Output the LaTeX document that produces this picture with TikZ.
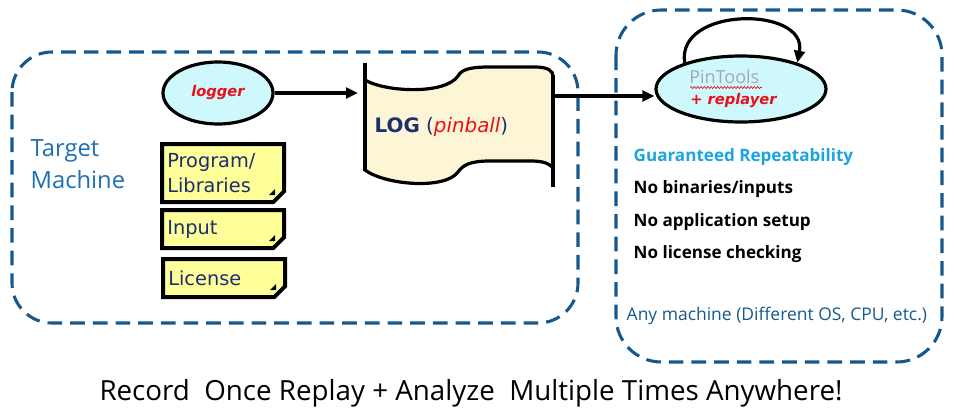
\documentclass[tikz,border=0pt]{standalone}
\usepackage{fontspec}
\setmainfont{Open Sans}
\newfontfamily\verd{DejaVu Sans}
\usetikzlibrary{arrows.meta}
\usetikzlibrary{shapes.geometric}
\usetikzlibrary{shapes.misc}
\usetikzlibrary{decorations.pathmorphing}
\definecolor{boxblue}{RGB}{22,88,140}
\definecolor{ovalfill}{RGB}{207,248,252}
\definecolor{hotred}{RGB}{232,16,26}
\definecolor{noteyellow}{RGB}{255,255,153}
\definecolor{navy}{RGB}{30,45,110}
\definecolor{logfill}{RGB}{252,245,214}
\definecolor{machblue}{RGB}{30,112,180}
\definecolor{skyblue}{RGB}{27,164,226}
\definecolor{greytext}{RGB}{160,170,178}
\tikzset{
  machinebox/.style={boxblue, line width=2.3pt, dash pattern=on 11pt off 6pt},
  oval/.style={ellipse, draw, line width=2.4pt, fill=ovalfill, inner sep=0pt},
  note/.style={chamfered rectangle, chamfered rectangle corners=south east,
    chamfered rectangle xsep=4pt, chamfered rectangle ysep=4pt,
    draw, line width=3pt, fill=noteyellow, anchor=north west,
    text=navy, font=\verd\fontsize{14.5}{18.5}\selectfont, align=left,
    inner xsep=0pt, inner ysep=0pt, text width=83.5pt},
  flow/.style={-{Triangle[length=9pt,width=8pt]}, line width=2.4pt},
  fact/.style={anchor=west, font=\bfseries\fontsize{12.8}{15}\selectfont},
  redbold/.style={font=\verd\fontsize{11}{13}\selectfont\bfseries\itshape, text=hotred},
}
\begin{document}
\begin{tikzpicture}[x=0.75pt,y=-0.75pt]
  \useasboundingbox (0,0) rectangle (954,414);

  % the two machines
  \draw[machinebox, rounded corners=30pt] (12,52) rectangle (578,323);
  \draw[machinebox, rounded corners=34pt] (616,10) rectangle (942,362);

  \node[text=machblue, font=\fontsize{17.8}{24}\selectfont, align=left, anchor=west]
    (target) at (26,164) {Target\\Machine};

  % recorder side
  \node[oval, redbold, minimum width=82.5pt, minimum height=46.5pt] (logger) at (218,93) {logger};

  \node[note, minimum height=43.5pt] (prog) at (160,142) {Program/\\Libraries};
  \node[note, minimum height=28.5pt] (input) at (160,208) {Input};
  \node[note, minimum height=28.5pt] (license) at (161,257) {License};
  \foreach \n in {prog,input,license}
    \fill ([shift={(-5,-3)}]\n.south east) -- ++(-6,0) -- ++(6,-6) -- cycle;

  % the log
  \fill[logfill] (365,80) .. controls (385,92) and (445,95) .. (458,76)
    .. controls (462,68) and (475,67) .. (490,67) -- (535,67)
    .. controls (548,67) and (553,71) .. (553,76) -- (553,168)
    .. controls (548,162) and (540,161) .. (530,161) -- (490,161)
    .. controls (470,161) and (463,165) .. (458,172)
    .. controls (445,190) and (385,185) .. (365,170) -- cycle;
  \draw[line width=2.4pt] (365,80) .. controls (385,92) and (445,95) .. (458,76)
    .. controls (462,68) and (475,67) .. (490,67) -- (535,67)
    .. controls (548,67) and (553,71) .. (553,76);
  \draw[line width=2.4pt] (553,168) .. controls (548,162) and (540,161) .. (530,161)
    -- (490,161) .. controls (470,161) and (463,165) .. (458,172)
    .. controls (445,190) and (385,185) .. (365,170);
  \draw[line width=2.4pt] (365,63) -- (365,171);
  \draw[line width=2.4pt] (553,75) -- (553,187);
  \node[anchor=west, font=\verd\fontsize{14.9}{17}\selectfont] (log) at (370,127)
    {\color{navy}\textbf{LOG} (\textcolor{hotred}{\itshape pinball})};
  \coordinate (logW) at (358,93);
  \coordinate (logE) at (553,96);

  \draw[flow] (logger.east) -- (logW);

  % replay side
  \node[oval, minimum width=127.5pt, minimum height=49.5pt] (pin) at (741,89) {};
  \node[anchor=base west, inner sep=0pt, text=greytext, font=\fontsize{13.5}{15}\selectfont]
    (pintools) at (689,83) {PinTools};
  \node[anchor=base west, inner sep=0pt, redbold] (replayer) at (690,104) {+ replayer};
  \draw[hotred, line width=0.5pt, decorate,
    decoration={snake, amplitude=0.8pt, segment length=2.5pt}] (690,87.5) -- (762,87.5);
  \draw[flow] (logE) -- (logE -| pin.west);
  \draw[flow] (pin.155) .. controls (676,6) and (808,6) .. (pin.25);

  \node[fact, text=skyblue] (repeat) at (629,157) {Guaranteed Repeatability};
  \node[fact] (nobin) at (629,189) {No binaries/inputs};
  \node[fact] (nosetup) at (629,222) {No application setup};
  \node[fact] (nolic) at (629,254) {No license checking};
  \node[anchor=west, text=boxblue, font=\fontsize{13.1}{15}\selectfont] (anymach)
    at (622,316) {Any machine (Different OS, CPU, etc.)};

  \node[font=\fontsize{20.8}{24}\selectfont] (caption) at (471,393)
    {Record\ \ Once Replay + Analyze\ \ Multiple Times Anywhere!};
\end{tikzpicture}
\end{document}
